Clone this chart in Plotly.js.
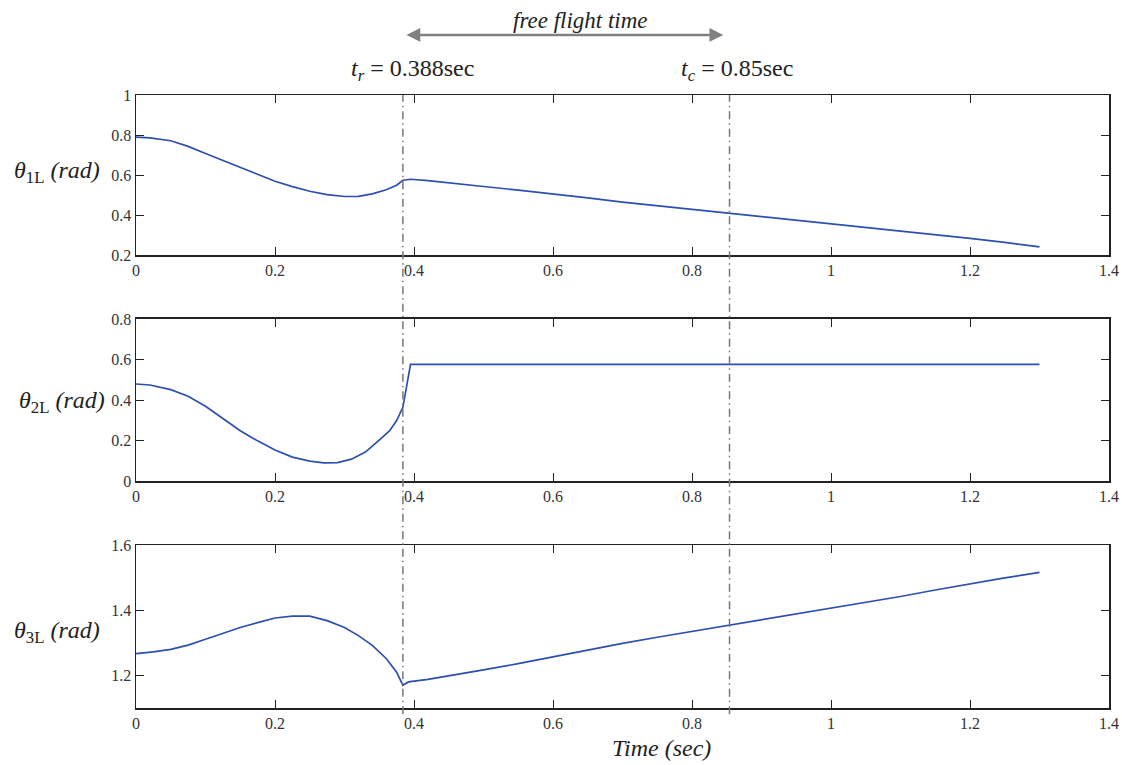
<!DOCTYPE html>
<html>
<head>
<meta charset="utf-8">
<script src="https://cdn.plot.ly/plotly-3.0.1.min.js"></script>
<style>html,body{margin:0;padding:0;background:#fff;}#chart{width:1122px;height:765px;}</style>
</head>
<body>
<div id="chart"></div>
<script>
// ---- data ----
const t1 = [0,0.02,0.05,0.075,0.1,0.125,0.15,0.175,0.2,0.225,0.25,0.275,0.3,0.32,0.34,0.36,0.375,0.384,0.395,0.42,0.45,0.5,0.55,0.6,0.65,0.7,0.75,0.8,0.855,0.9,0.95,1.0,1.05,1.1,1.15,1.2,1.25,1.3];
const theta1 = [0.790,0.786,0.772,0.744,0.708,0.673,0.636,0.603,0.570,0.543,0.520,0.503,0.494,0.495,0.507,0.528,0.550,0.575,0.580,0.573,0.563,0.544,0.526,0.508,0.487,0.466,0.448,0.431,0.408,0.392,0.375,0.357,0.339,0.321,0.303,0.285,0.265,0.243];

const t2 = [0,0.02,0.05,0.075,0.1,0.125,0.15,0.175,0.2,0.225,0.25,0.27,0.29,0.31,0.33,0.35,0.365,0.375,0.384,0.395,0.6,0.8,1.0,1.2,1.3];
const theta2 = [0.48,0.475,0.452,0.42,0.37,0.308,0.25,0.2,0.155,0.12,0.1,0.092,0.093,0.11,0.145,0.204,0.25,0.3,0.365,0.577,0.577,0.577,0.577,0.577,0.577];

const t3 = [0,0.025,0.05,0.075,0.1,0.125,0.15,0.175,0.2,0.225,0.25,0.275,0.3,0.32,0.34,0.36,0.375,0.384,0.392,0.42,0.45,0.5,0.55,0.6,0.65,0.7,0.75,0.8,0.855,0.9,0.95,1.0,1.05,1.1,1.15,1.2,1.25,1.3];
const theta3 = [1.267,1.272,1.280,1.293,1.311,1.330,1.347,1.362,1.376,1.382,1.382,1.368,1.347,1.322,1.292,1.252,1.210,1.170,1.180,1.188,1.198,1.217,1.236,1.257,1.278,1.298,1.317,1.335,1.353,1.370,1.388,1.406,1.424,1.442,1.462,1.481,1.499,1.516];

const eventTimes = [0.384, 0.854];            // dash-dot marker lines
const eventLabels = ['<i>t<sub>r</sub></i> = 0.388sec', '<i>t<sub>c</sub></i> = 0.85sec'];
const flightSpan = [0.387, 0.845];            // arrow ends
const yTitles = ['<i>θ</i><sub>1L</sub> <i>(rad)</i>', '<i>θ</i><sub>2L</sub> <i>(rad)</i>', '<i>θ</i><sub>3L</sub> <i>(rad)</i>'];
const xRange = [0, 1.4];
const yRanges = [[0.2, 1], [0, 0.8], [1.1, 1.6]];

// ---- styling ----
const SERIF = 'Liberation Serif';
const lineColor = '#2d4fb0';
const axisBase = {
  showline: true, linecolor: '#222', linewidth: 1.5, mirror: 'ticks',
  ticks: 'inside', ticklen: 8, tickwidth: 1, tickcolor: '#222',
  showgrid: false, zeroline: false,
  tickfont: {family: SERIF, size: 16, color: '#333'}
};

const traces = [
  {x: t1, y: theta1, xaxis: 'x', yaxis: 'y'},
  {x: t2, y: theta2, xaxis: 'x2', yaxis: 'y2'},
  {x: t3, y: theta3, xaxis: 'x3', yaxis: 'y3'}
].map(tr => Object.assign(tr, {type: 'scatter', mode: 'lines', line: {color: lineColor, width: 1.7}, showlegend: false, hoverinfo: 'skip'}));

const domains = [[0.7382, 1], [0.3695, 0.6346], [0, 0.2659]];
const layout = {
  width: 1122, height: 765,
  margin: {l: 136, r: 13, t: 95, b: 57},
  paper_bgcolor: '#fff', plot_bgcolor: '#fff',
  font: {family: SERIF, color: '#222'},
  showlegend: false,
  shapes: [], annotations: []
};
['', '2', '3'].forEach((s, i) => {
  layout['xaxis' + s] = Object.assign({}, axisBase, {range: xRange, dtick: 0.2, tick0: 0, anchor: 'y' + s, domain: [0, 1]});
  layout['yaxis' + s] = Object.assign({}, axisBase, {range: yRanges[i], dtick: 0.2, tick0: 0, anchor: 'x' + s, domain: domains[i]});
});

const titleY = [0.8744, 0.4992, 0.124];
const titleX = [-0.1274, -0.1223, -0.1274];
yTitles.forEach((txt, i) => {
  layout.annotations.push({text: txt, xref: 'paper', yref: 'paper', x: titleX[i], y: titleY[i],
    xanchor: 'left', yanchor: 'middle', showarrow: false, font: {family: SERIF, size: 24, color: '#222'}});
});

eventTimes.forEach((tv, i) => {
  layout.shapes.push({type: 'line', xref: 'x', yref: 'paper', x0: tv, x1: tv, y0: -0.01, y1: 1.0,
    line: {color: '#777', width: 1.5, dash: '8px,4px,1.5px,4px'}});
});
layout.annotations.push({text: eventLabels[0], xref: 'paper', yref: 'paper', x: (412 - 136) / 973, y: 1.0408,
  xanchor: 'center', yanchor: 'middle', showarrow: false, font: {family: SERIF, size: 24, color: '#222'}});
layout.annotations.push({text: eventLabels[1], xref: 'paper', yref: 'paper', x: (737 - 136) / 973, y: 1.0408,
  xanchor: 'center', yanchor: 'middle', showarrow: false, font: {family: SERIF, size: 24, color: '#222'}});

layout.annotations.push({text: '', xref: 'x', yref: 'paper', x: flightSpan[1], y: 1.0979,
  axref: 'x', ax: flightSpan[0], ayref: 'pixel', ay: 0, showarrow: true, arrowside: 'end+start',
  arrowhead: 2, arrowsize: 1.1, arrowwidth: 2.5, arrowcolor: '#808080', standoff: 0, startstandoff: 0});
layout.annotations.push({text: '<i>free flight time</i>', xref: 'paper', yref: 'paper', x: (580 - 136) / 973, y: 1.1223,
  xanchor: 'center', yanchor: 'middle', showarrow: false, font: {family: SERIF, size: 23, color: '#222'}});

layout.annotations.push({text: '<i>Time (sec)</i>', xref: 'paper', yref: 'paper', x: (661 - 136) / 973, y: -0.0653,
  xanchor: 'center', yanchor: 'middle', showarrow: false, font: {family: SERIF, size: 24, color: '#222'}});

Plotly.newPlot('chart', traces, layout, {displayModeBar: false, staticPlot: true});
</script>
</body>
</html>
